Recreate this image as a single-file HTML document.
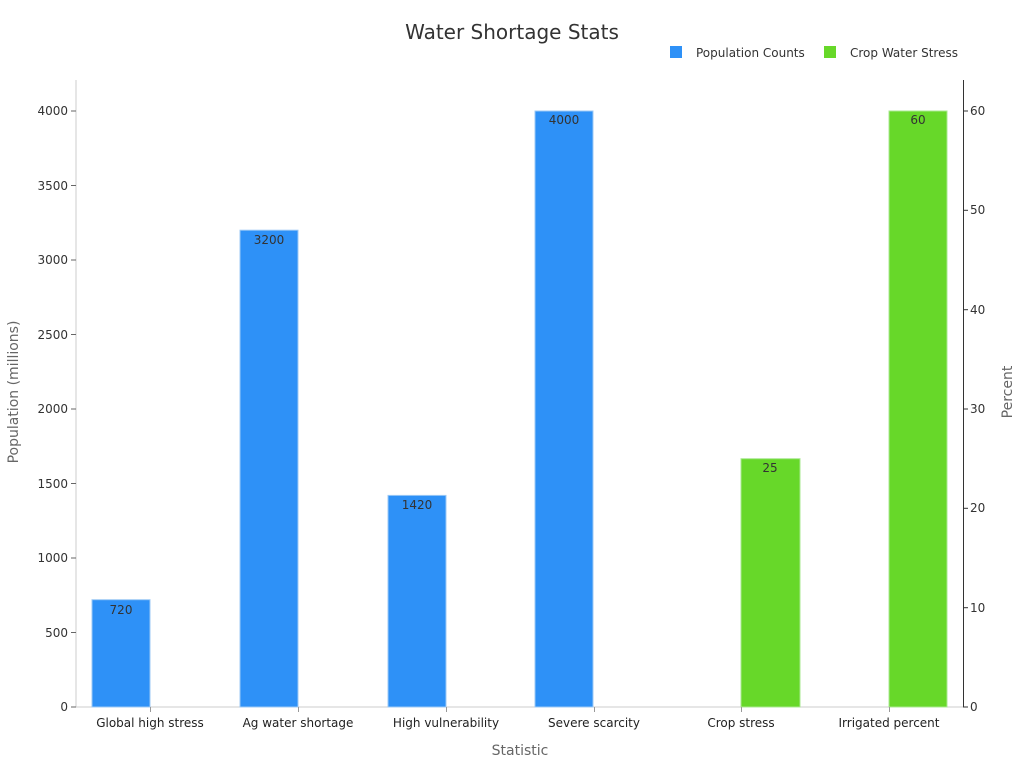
<!DOCTYPE html>
<html><head><meta charset="utf-8"><style>
html,body{margin:0;padding:0;background:#fff;}
svg{display:block;font-family:"DejaVu Sans","Liberation Sans",sans-serif;}
</style></head><body>
<svg width="1020" height="764" viewBox="0 0 1020 764">
<text x="512" y="39" text-anchor="middle" font-size="20" fill="#333">Water Shortage Stats</text>
<rect x="670" y="46" width="12" height="12" fill="#2e91f7"/>
<text x="696" y="57" font-size="12" fill="#333">Population Counts</text>
<rect x="824" y="46" width="12" height="12" fill="#67d829"/>
<text x="850" y="57" font-size="12" fill="#333">Crop Water Stress</text>
<line x1="76" y1="80" x2="76" y2="707" stroke="#ccc"/>
<line x1="76" y1="707" x2="963" y2="707" stroke="#ccc"/>
<line x1="963.5" y1="80" x2="963.5" y2="707" stroke="#333"/>
<g font-size="12" fill="#333" text-anchor="end">
<text x="68" y="711">0</text><line x1="71" y1="707" x2="76" y2="707" stroke="#666"/>
<text x="68" y="637">500</text><line x1="71" y1="632.5" x2="76" y2="632.5" stroke="#666"/>
<text x="68" y="562">1000</text><line x1="71" y1="558" x2="76" y2="558" stroke="#666"/>
<text x="68" y="488">1500</text><line x1="71" y1="483.5" x2="76" y2="483.5" stroke="#666"/>
<text x="68" y="413">2000</text><line x1="71" y1="409" x2="76" y2="409" stroke="#666"/>
<text x="68" y="339">2500</text><line x1="71" y1="334.5" x2="76" y2="334.5" stroke="#666"/>
<text x="68" y="264">3000</text><line x1="71" y1="260" x2="76" y2="260" stroke="#666"/>
<text x="68" y="190">3500</text><line x1="71" y1="185.5" x2="76" y2="185.5" stroke="#666"/>
<text x="68" y="115">4000</text><line x1="71" y1="111" x2="76" y2="111" stroke="#666"/>
</g>
<g font-size="12" fill="#333">
<text x="970" y="711">0</text><line x1="963" y1="707" x2="968" y2="707" stroke="#333"/>
<text x="970" y="612">10</text><line x1="963" y1="607.7" x2="968" y2="607.7" stroke="#333"/>
<text x="970" y="512">20</text><line x1="963" y1="508.3" x2="968" y2="508.3" stroke="#333"/>
<text x="970" y="413">30</text><line x1="963" y1="409" x2="968" y2="409" stroke="#333"/>
<text x="970" y="314">40</text><line x1="963" y1="309.7" x2="968" y2="309.7" stroke="#333"/>
<text x="970" y="214">50</text><line x1="963" y1="210.3" x2="968" y2="210.3" stroke="#333"/>
<text x="970" y="115">60</text><line x1="963" y1="111" x2="968" y2="111" stroke="#333"/>
</g>
<text transform="translate(18,392) rotate(-90)" text-anchor="middle" font-size="14" fill="#666">Population (millions)</text>
<text transform="translate(1012,392) rotate(-90)" text-anchor="middle" font-size="14" fill="#666">Percent</text>
<text x="520" y="755" text-anchor="middle" font-size="14" fill="#666">Statistic</text>
<g stroke="#9cc9f5" stroke-width="1">
<rect x="92" y="599.7" width="58" height="107.3" fill="#2e91f7"/>
<rect x="240" y="230.2" width="58" height="476.8" fill="#2e91f7"/>
<rect x="388" y="495.4" width="58" height="211.6" fill="#2e91f7"/>
<rect x="535" y="111" width="58" height="596" fill="#2e91f7"/>
</g>
<g stroke="#a8e890" stroke-width="1">
<rect x="741" y="458.7" width="59" height="248.3" fill="#67d829"/>
<rect x="889" y="111" width="58" height="596" fill="#67d829"/>
</g>
<g font-size="12" fill="#333" text-anchor="middle">
<text x="121" y="614">720</text>
<text x="269" y="244">3200</text>
<text x="417" y="509">1420</text>
<text x="564" y="124">4000</text>
<text x="770" y="472">25</text>
<text x="918" y="124">60</text>
</g>
<g font-size="12" fill="#222" text-anchor="middle">
<line x1="150.5" y1="707" x2="150.5" y2="712" stroke="#999"/><text x="150" y="727">Global high stress</text>
<line x1="298.5" y1="707" x2="298.5" y2="712" stroke="#999"/><text x="298" y="727">Ag water shortage</text>
<line x1="446.5" y1="707" x2="446.5" y2="712" stroke="#999"/><text x="446" y="727">High vulnerability</text>
<line x1="594.5" y1="707" x2="594.5" y2="712" stroke="#999"/><text x="594" y="727">Severe scarcity</text>
<line x1="741.5" y1="707" x2="741.5" y2="712" stroke="#999"/><text x="741" y="727">Crop stress</text>
<line x1="889.5" y1="707" x2="889.5" y2="712" stroke="#999"/><text x="889" y="727">Irrigated percent</text>
</g>
</svg>
</body></html>
